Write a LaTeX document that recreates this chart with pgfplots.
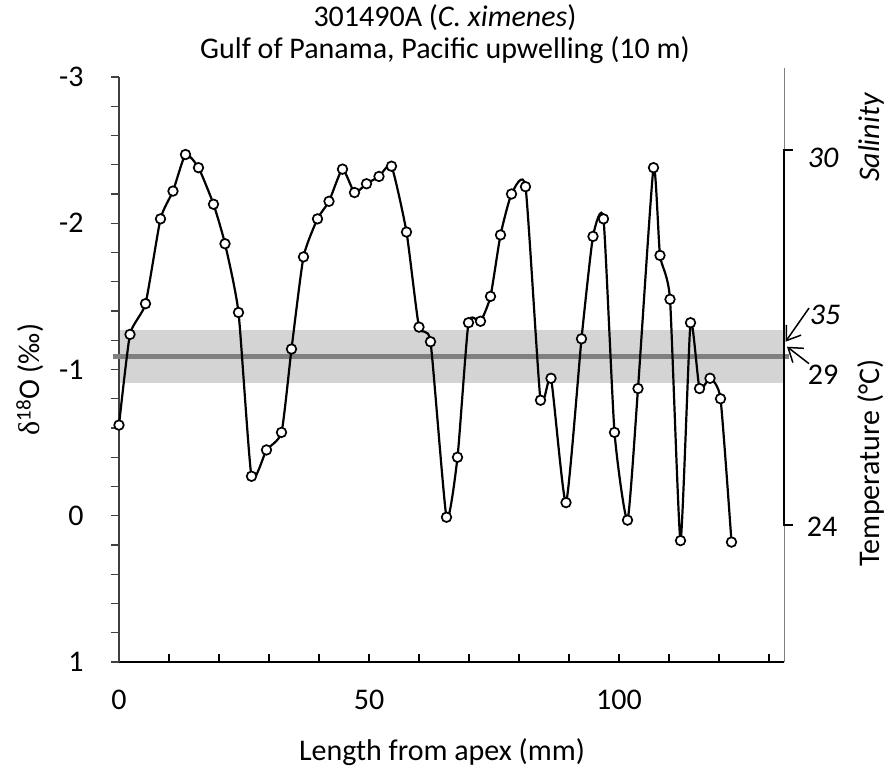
\documentclass[border=0pt]{standalone}
\usepackage{pgfplots}
\pgfplotsset{compat=1.18}
\usepackage{fontspec}
\setmainfont{Carlito}
\newfontfamily\serifgreek{Liberation Serif}
\usetikzlibrary{arrows.meta}

\pgfplotstableread{
x y
0 -0.62
2.2 -1.24
5.3 -1.45
8.3 -2.03
10.8 -2.22
13.3 -2.47
15.9 -2.38
18.9 -2.13
21.2 -1.86
23.9 -1.39
26.5 -0.27
29.5 -0.45
32.5 -0.57
34.5 -1.14
36.9 -1.77
39.7 -2.03
42.0 -2.15
44.7 -2.37
47.1 -2.21
49.5 -2.27
52.0 -2.32
54.5 -2.39
57.5 -1.94
60.0 -1.29
62.3 -1.19
65.5 0.01
67.7 -0.40
69.9 -1.32
72.3 -1.33
74.3 -1.50
76.3 -1.92
78.5 -2.20
81.3 -2.25
84.3 -0.79
86.4 -0.94
89.4 -0.09
92.5 -1.21
94.8 -1.91
96.9 -2.03
99.1 -0.57
101.7 0.03
103.8 -0.87
106.9 -2.38
108.2 -1.78
110.2 -1.48
112.3 0.17
114.3 -1.32
116.1 -0.87
118.2 -0.94
120.3 -0.80
122.5 0.18
}\isodata

\begin{document}
\begin{tikzpicture}[font=\fontsize{30}{36}\selectfont]
\begin{axis}[
  scale only axis, width=665pt, height=585pt,
  xmin=0, xmax=133, ymin=-3, ymax=1, y dir=reverse,
  clip=false,
  axis x line*=bottom, axis y line*=left,
  x axis line style={-, black, line width=1.6pt},
  y axis line style={-, black!75, line width=1.2pt},
  xtick={0,50,100},
  minor xtick={10,20,30,40,60,70,80,90,110,120,130},
  ytick={-3,-2,-1,0,1},
  yticklabels={-3,-2,-1,0,1},
  minor ytick={-2.8,-2.6,-2.4,-2.2,-1.8,-1.6,-1.4,-1.2,-0.8,-0.6,-0.4,-0.2,0.2,0.4,0.6,0.8},
  tick align=inside,
  major tick length=8pt, minor tick length=8pt,
  xtick style={black, line width=1.2pt},
  ytick style={xshift=-8pt, black!75, line width=1.2pt},
  xticklabel shift=24pt,
  yticklabel shift=32pt,
  /pgf/number format/assume math mode=true,
  ticklabel style={font=\fontsize{30}{36}\selectfont},
]
% band and mean line
\fill[black!17] (axis cs:0.3,-1.272) rectangle (axis cs:133,-0.907);
\draw[black!50, line width=4.5pt] (axis cs:-1.2,-1.089) -- (axis cs:134,-1.089);

\addplot[black, line width=2.2pt, smooth, tension=0.32, mark=*, mark size=4.8pt,
  mark options={fill=white, draw=black, line width=1.7pt, solid}] table[x=x,y=y] {\isodata};

% right scale
\draw[gray, line width=0.8pt] (axis cs:133,-3.063) -- (axis cs:133,1);
\draw[black, line width=2pt] (axis cs:133,-2.5) -- (axis cs:133,0.06);
\draw[black, line width=2pt] (axis cs:132.8,-2.5) -- (axis cs:134.8,-2.5);
\draw[black, line width=2pt] (axis cs:132.8,0.06) -- (axis cs:134.8,0.06);
\node[font=\fontsize{30}{36}\selectfont\itshape] at (axis cs:140.8,-2.45) {30};
\node at (axis cs:140.6,0.075) {24};
\node[font=\fontsize{30}{36}\selectfont\itshape] at (axis cs:141.2,-1.374) {35};
\node at (axis cs:140.8,-0.964) {29};
\draw[-{Straight Barb[length=13pt,width=18pt]}, line width=1.5pt] (axis cs:138.0,-1.42) -- (axis cs:133.3,-1.19);
\draw[-{Straight Barb[length=13pt,width=18pt]}, line width=1.5pt] (axis cs:138.0,-1.04) -- (axis cs:133.6,-1.156);
\node[rotate=90, inner sep=0pt, font=\fontsize{30}{36}\selectfont\itshape] at (axis cs:150.4,-2.585) {Salinity};
\node[rotate=90, inner sep=0pt] at (axis cs:150.4,-0.36) {Temperature (°C)};

% titles and labels
\node at (axis cs:65.2,-3.405) {301490A (\textit{C. ximenes})};
\node at (axis cs:65.2,-3.186) {Gulf of Panama, Pacific upwelling (10 m)};
\node[rotate=90] at (axis cs:-17.8,-0.93) {{\serifgreek δ}\textsuperscript{18}O (‰)};
\node at (axis cs:64.6,1.614) {Length from apex (mm)};
\end{axis}
\pgfresetboundingbox
\path[use as bounding box] (current axis.south west) ++(-119pt,-109pt) rectangle ++(896pt,771pt);
\end{tikzpicture}
\end{document}
